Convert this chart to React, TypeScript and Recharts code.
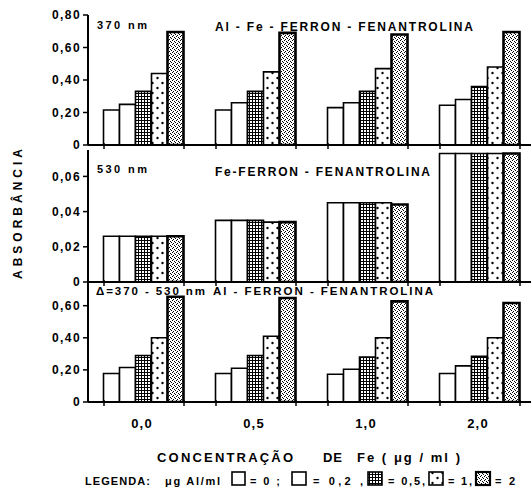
import React from 'react';
import { BarChart, Bar, XAxis, YAxis } from 'recharts';

// Fe concentration (µg/ml) categories
const feLevels = ['0,0', '0,5', '1,0', '2,0'];
// Al levels (µg Al/ml) - one bar per level
const alLevels = ['0', '0,2', '0,5', '1', '2'];

// 370 nm  Al - Fe - FERRON - FENANTROLINA
const a370Al0 = [0.215, 0.215, 0.23, 0.245];
const a370Al02 = [0.25, 0.26, 0.26, 0.28];
const a370Al05 = [0.33, 0.33, 0.33, 0.36];
const a370Al1 = [0.44, 0.45, 0.47, 0.48];
const a370Al2 = [0.695, 0.69, 0.68, 0.695];

// 530 nm  Fe - FERRON - FENANTROLINA
const a530Al0 = [0.026, 0.035, 0.045, 0.073];
const a530Al02 = [0.026, 0.035, 0.045, 0.073];
const a530Al05 = [0.026, 0.035, 0.045, 0.073];
const a530Al1 = [0.026, 0.034, 0.045, 0.073];
const a530Al2 = [0.026, 0.034, 0.044, 0.073];

// delta 370 - 530 nm  Al - FERRON - FENANTROLINA
const dAl0 = [0.178, 0.178, 0.173, 0.178];
const dAl02 = [0.215, 0.21, 0.204, 0.225];
const dAl05 = [0.29, 0.29, 0.28, 0.285];
const dAl1 = [0.4, 0.41, 0.4, 0.4];
const dAl2 = [0.656, 0.648, 0.627, 0.617];

const ticks370 = [0, 0.2, 0.4, 0.6, 0.8];
const ticks530 = [0, 0.02, 0.04, 0.06];
const ticksDelta = [0, 0.2, 0.4, 0.6];

const keys = ['a0', 'a02', 'a05', 'a1', 'a2'];
const fills = ['#fff', '#fff', 'url(#pGrid)', 'url(#pDots)', 'url(#pStip)'];
const strokeWidths = [1.6, 1.6, 1.6, 1.6, 2.6];

const FONT = '"Liberation Sans", Arial, sans-serif';
const W = 540;
const H = 491;
const AXIS_H = 30;

function buildRows(series: number[][]) {
  return feLevels.map((fe, i) => {
    const row: Record<string, string | number> = { fe };
    keys.forEach((k, j) => {
      row[k] = series[j][i];
    });
    return row;
  });
}

const rows370 = buildRows([a370Al0, a370Al02, a370Al05, a370Al1, a370Al2]);
const rows530 = buildRows([a530Al0, a530Al02, a530Al05, a530Al1, a530Al2]);
const rowsDelta = buildRows([dAl0, dAl02, dAl05, dAl1, dAl2]);

const fmt = (v: number) => (v === 0 ? '0' : v.toFixed(2).replace('.', ','));

const yTick = (props: any) => {
  const { x, y, payload } = props;
  return (
    <text x={x + 1} y={y} dy="0.36em" textAnchor="end" fill="#000" fontSize={12} fontWeight="bold" fontFamily={FONT} letterSpacing={1.4}>
      {fmt(payload.value)}
    </text>
  );
};

const edgeTick = (showLabel: boolean) => (props: any) => {
  const { x, y, payload } = props;
  const half = 40;
  return (
    <g>
      <line x1={x - half} x2={x - half} y1={y - 2} y2={y + 4} stroke="#000" strokeWidth={1.5} />
      <line x1={x + half} x2={x + half} y1={y - 2} y2={y + 4} stroke="#000" strokeWidth={1.5} />
      {showLabel && (
        <text x={x - 2} y={y + 26} textAnchor="middle" fill="#000" fontSize={13} fontWeight="bold" fontFamily={FONT} letterSpacing={1.2}>
          {payload.value}
        </text>
      )}
    </g>
  );
};

interface PanelProps {
  rows: Record<string, string | number>[];
  top: number;
  bottom: number;
  max: number;
  ticks: number[];
  showLabels?: boolean;
}

function Panel({ rows, top, bottom, max, ticks, showLabels = false }: PanelProps) {
  return (
    <div style={{ position: 'absolute', left: 0, top: 0 }}>
      <BarChart
        width={W}
        height={H}
        data={rows}
        margin={{ top, right: 4, bottom: H - bottom - AXIS_H, left: 0 }}
        barGap={0}
        barCategoryGap={15.5}
      >
        <XAxis
          dataKey="fe"
          height={AXIS_H}
          interval={0}
          tickLine={false}
          tickSize={0}
          tickMargin={0}
          axisLine={{ stroke: '#000', strokeWidth: 2 }}
          tick={edgeTick(showLabels)}
        />
        <YAxis
          width={88}
          domain={[0, max]}
          ticks={ticks}
          allowDataOverflow
          axisLine={{ stroke: '#000', strokeWidth: 2 }}
          tickLine={{ stroke: '#000', strokeWidth: 1.5 }}
          tickSize={5}
          tickMargin={3}
          tick={yTick}
        />
        {keys.map((k, j) => (
          <Bar
            key={k}
            dataKey={k}
            name={alLevels[j]}
            fill={fills[j]}
            stroke="#000"
            strokeWidth={strokeWidths[j]}
            isAnimationActive={false}
          />
        ))}
      </BarChart>
    </div>
  );
}

const txt = { fill: '#000', fontWeight: 'bold' as const, fontFamily: FONT };

export default function App() {
  return (
    <div style={{ position: 'absolute', left: 0, top: 0, width: 531, height: 491, overflow: 'hidden', background: '#fff' }}>
      <svg width={531} height={491} style={{ position: 'absolute', left: 0, top: 0 }}>
        <defs>
          <pattern id="pGrid" width={3} height={3} patternUnits="userSpaceOnUse">
            <rect width={3} height={3} fill="#fff" />
            <rect width={1} height={3} fill="#000" />
            <rect width={3} height={1} fill="#000" />
          </pattern>
          <pattern id="pDots" width={10} height={10} patternUnits="userSpaceOnUse">
            <rect width={10} height={10} fill="#fff" />
            <circle cx={2.5} cy={3} r={1.2} fill="#000" />
            <circle cx={7.5} cy={8} r={1.2} fill="#000" />
          </pattern>
          <pattern id="pStip" width={4} height={4} patternUnits="userSpaceOnUse">
            <rect width={4} height={4} fill="#fff" />
            <rect x={0} y={0} width={1} height={1} fill="#000" />
            <rect x={2} y={1} width={1} height={1} fill="#000" />
            <rect x={1} y={3} width={1} height={1} fill="#000" />
            <rect x={3} y={2} width={1} height={1} fill="#000" />
          </pattern>
        </defs>
      </svg>

      <Panel rows={rows370} top={15} bottom={145} max={0.8} ticks={ticks370} />
      <Panel rows={rows530} top={150} bottom={282} max={0.075} ticks={ticks530} />
      <Panel rows={rowsDelta} top={280} bottom={402} max={0.76} ticks={ticksDelta} showLabels />

      <svg width={531} height={491} style={{ position: 'absolute', left: 0, top: 0, pointerEvents: 'none' }}>
        <text x={97} y={29} fontSize={11} textLength={50} {...txt}>370 nm</text>
        <text x={215} y={31} fontSize={12} textLength={258} lengthAdjust="spacing" {...txt}>Al - Fe - FERRON - FENANTROLINA</text>
        <text x={97} y={173} fontSize={11} textLength={50} {...txt}>530 nm</text>
        <text x={215} y={176} fontSize={12} textLength={215} lengthAdjust="spacing" {...txt}>Fe-FERRON - FENANTROLINA</text>
        <text x={96} y={294.5} fontSize={11.5} textLength={109} lengthAdjust="spacing" {...txt}>Δ=370 - 530 nm</text>
        <text x={213} y={294.5} fontSize={11.5} textLength={220} lengthAdjust="spacing" {...txt}>Al - FERRON - FENANTROLINA</text>

        <text transform="translate(22,214) rotate(-90)" textAnchor="middle" fontSize={12} textLength={130} lengthAdjust="spacing" {...txt}>ABSORBÂNCIA</text>

        <text x={157} y={462} fontSize={13} textLength={136} lengthAdjust="spacing" {...txt}>CONCENTRAÇÃO</text>
        <text x={323} y={462} fontSize={13} textLength={19} {...txt}>DE</text>
        <text x={357} y={462} fontSize={13} textLength={103} lengthAdjust="spacing" {...txt}>Fe ( μg / ml )</text>

        <text x={85} y={485} fontSize={11} textLength={65} {...txt}>LEGENDA:</text>
        <text x={165} y={485} fontSize={11} textLength={55} {...txt}>μg Al/ml</text>
        <rect x={232} y={472} width={13} height={13} fill={fills[0]} stroke="#000" strokeWidth={1.6} />
        <text x={250} y={485} fontSize={11} textLength={30} lengthAdjust="spacing" {...txt}>= 0 ;</text>
        <rect x={292} y={472} width={14} height={13} fill={fills[1]} stroke="#000" strokeWidth={1.6} />
        <text x={313} y={485} fontSize={11} textLength={50} lengthAdjust="spacing" {...txt}>= 0,2 ,</text>
        <rect x={368} y={472} width={14} height={13} fill={fills[2]} stroke="#000" strokeWidth={1.6} />
        <text x={388} y={485} fontSize={11} textLength={37} lengthAdjust="spacing" {...txt}>= 0,5,</text>
        <rect x={429} y={472} width={14} height={13} fill={fills[3]} stroke="#000" strokeWidth={1.6} />
        <text x={448} y={485} fontSize={11} textLength={24} lengthAdjust="spacing" {...txt}>= 1,</text>
        <rect x={476} y={472} width={14} height={13} fill={fills[4]} stroke="#000" strokeWidth={2.2} />
        <text x={495} y={485} fontSize={11} textLength={20} lengthAdjust="spacing" {...txt}>= 2</text>
      </svg>
    </div>
  );
}
